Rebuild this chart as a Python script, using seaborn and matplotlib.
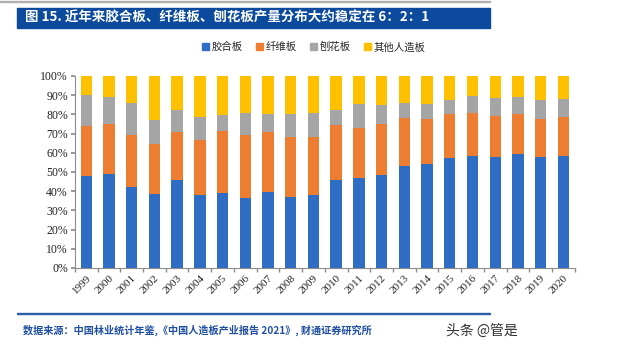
import matplotlib
matplotlib.use("Agg")
import matplotlib.pyplot as plt
import seaborn as sns
import numpy as np
import pandas as pd
from matplotlib.patches import Rectangle

years = [str(y) for y in range(1999, 2021)]
# shares (%) of each board type
plywood = [48.1, 49.1, 42.3, 38.3, 45.6, 38.0, 38.9, 36.3, 39.7, 37.0, 38.2,
           46.0, 46.9, 48.6, 53.1, 54.2, 57.1, 58.5, 57.8, 59.4, 58.0, 58.5]
fiberboard = [26.0, 26.1, 27.0, 26.4, 25.0, 28.8, 32.3, 33.0, 31.3, 31.0, 29.8,
              28.5, 26.2, 26.2, 25.2, 23.4, 22.9, 22.2, 21.5, 20.6, 19.8, 20.1]
particle = [15.8, 13.9, 16.4, 12.2, 11.8, 11.6, 8.6, 11.6, 9.0, 12.0, 12.5,
            7.9, 12.5, 10.1, 7.4, 8.0, 7.3, 8.9, 9.4, 9.2, 9.9, 9.4]
other = [round(100 - a - b - c, 1) for a, b, c in zip(plywood, fiberboard, particle)]

series_names = ["胶合板", "纤维板", "刨花板", "其他人造板"]
colors = ["#2f6cc4", "#ed7d31", "#a5a5a5", "#ffc000"]
yticks = [0, 10, 20, 30, 40, 50, 60, 70, 80, 90, 100]

sns.set_theme(style="white")
plt.rcParams['font.family'] = ['Noto Sans CJK SC', 'DejaVu Sans']

fig = plt.figure(figsize=(6.4, 3.47), dpi=100)
ax = fig.add_axes([0.117, 0.228, 0.781, 0.553])

df = pd.DataFrame({"year": years, "胶合板": plywood, "纤维板": fiberboard,
                   "刨花板": particle, "其他人造板": other})
cum = df[series_names].cumsum(axis=1)

for name, col in reversed(list(zip(series_names, colors))):
    sns.barplot(x=df["year"], y=cum[name], color=col, width=0.5, ax=ax,
                saturation=1, linewidth=0)

ax.set_ylim(0, 100)
ax.set_xlim(-0.5, len(years) - 0.5)
ax.set_yticks(yticks)
ax.set_yticklabels([f"{v}%" for v in yticks], family="Liberation Serif", fontsize=8.5, color="#222222")
ax.set_xticks(range(len(years)))
ax.set_xticklabels(years, rotation=45, ha="right", rotation_mode="anchor",
                   family="Liberation Serif", fontsize=8, color="#222222")
ax.set_xlabel("")
ax.set_ylabel("")
for s in ["top", "right"]:
    ax.spines[s].set_visible(False)
for s in ["left", "bottom"]:
    ax.spines[s].set_color("#8c8c8c")
    ax.spines[s].set_linewidth(0.8)
ax.tick_params(axis="y", length=3, color="#8c8c8c", pad=2, left=True)
ax.set_xticks(np.arange(-0.5, len(years), 1), minor=True)
ax.tick_params(axis="x", which="major", length=0, pad=4)
ax.tick_params(axis="x", which="minor", length=3, color="#8c8c8c", bottom=True)

handles = [Rectangle((0, 0), 1, 1, color=c) for c in colors]
fig.legend(handles, series_names, loc="center", bbox_to_anchor=(0.49, 0.864), ncol=4,
           frameon=False, handlelength=0.7, handleheight=0.7,
           handletextpad=0.2, columnspacing=1.3, prop={"family": ["Noto Sans CJK SC"], "size": 7.5})

# title band
fig.patches.append(Rectangle((0, 0.993), 0.766, 0.004, transform=fig.transFigure,
                             color="#b0b0b0", zorder=0))
fig.patches.append(Rectangle((0.027, 0.919), 0.739, 0.058, transform=fig.transFigure,
                             color="#0b4a9c", zorder=1))
fig.text(0.039, 0.948, "图 15. 近年来胶合板、纤维板、刨花板产量分布大约稳定在 6：2：1",
         color="white", fontsize=9.7, fontweight="bold", va="center", ha="left")

# footer
fig.patches.append(Rectangle((0.027, 0.094), 0.739, 0.004, transform=fig.transFigure,
                             color="#2b5ea8", zorder=1))
fig.text(0.036, 0.047, "数据来源：中国林业统计年鉴,《中国人造板产业报告 2021》, 财通证券研究所",
         color="#1f4fa0", fontsize=7.3, fontweight="bold", va="center", ha="left")
fig.text(0.697, 0.047, "头条 @管是", color="#333333", fontsize=10, va="center", ha="left")

fig.savefig("out.png", dpi=100)
